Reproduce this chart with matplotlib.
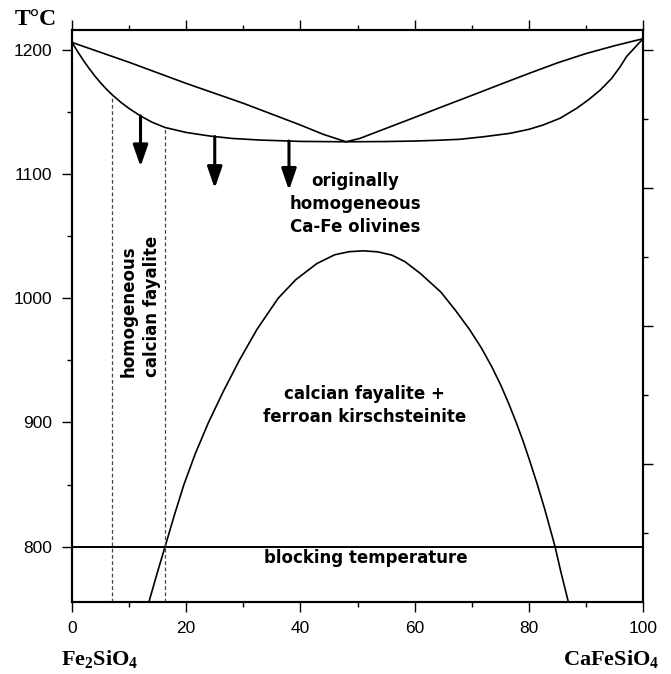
import numpy as np
import matplotlib
matplotlib.use("Agg")
import matplotlib.pyplot as plt

plt.rcParams['mathtext.fontset'] = 'custom'
plt.rcParams['mathtext.bf'] = 'Liberation Serif:bold'
plt.rcParams['mathtext.rm'] = 'Liberation Serif:bold'

# ---------------- data ----------------
# liquidus (upper curve)
liq_x = [0, 10, 20, 30, 40, 44, 48, 50.4, 55, 60, 65, 70, 75, 80, 85, 90, 95, 100]
liq_T = [1206, 1190, 1173, 1157, 1139.5, 1132, 1126, 1128.7, 1136.8, 1145.6, 1154.5,
         1163.3, 1172.2, 1181, 1189.5, 1197, 1203.3, 1209]
# solidus (lower curve)
sol_x = [0, 1, 2, 3, 4, 5, 6, 7, 8.5, 10, 12, 14, 16.3, 20, 24.2, 28, 32.9, 40, 48,
         55, 60, 64, 67.9, 72, 76.7, 80, 82.5, 85.5, 88.4, 90.5, 92.5, 94.5, 96,
         97.1, 98.5, 100]
sol_T = [1206, 1198.5, 1191.5, 1185, 1179, 1173.5, 1168.5, 1164, 1158, 1152.8, 1146.8,
         1141.8, 1137.5, 1133.5, 1130.6, 1128.7, 1127.4, 1126.3, 1126, 1126.2, 1126.6,
         1127.2, 1128, 1130, 1132.8, 1136, 1139.5, 1145, 1153, 1160, 1167.6, 1177,
         1186.4, 1194.5, 1201.5, 1209]
# solvus dome
solv_x = [13.5, 15.0, 16.3, 17.9, 19.6, 21.6, 23.9, 26.5, 29.3, 32.4, 36.1, 39.2, 42.9,
          46.0, 48.5, 51.0, 53.5, 56.0, 58.3, 61.0, 64.6, 67.2, 69.6, 71.7, 73.5, 75.1,
          76.5, 77.8, 79.0, 80.1, 81.5, 82.8, 83.7, 84.6, 85.6, 86.9]
solv_T = [756, 780, 800, 825, 850, 875, 900, 925, 950, 975, 1000, 1015, 1028,
          1035, 1037.5, 1038.2, 1037.4, 1034.8, 1029.5, 1020, 1005, 990, 975, 960,
          945, 930, 915, 900, 885, 870, 850, 830, 815, 800, 780, 756]
blocking_T = 800
dash_x = [7, 16.3]
arrow_x = [12, 25, 38]
arrow_end_T = [1106, 1088.5, 1087]

x_ticks = [0, 20, 40, 60, 80, 100]
y_ticks = [800, 900, 1000, 1100, 1200]
right_major = [1200, 1200 - 1000/9, 1200 - 2000/9, 1200 - 3000/9]
right_minor = [t - 500/9 for t in right_major]

# ---------------- figure ----------------
W, H = 671, 674
fig = plt.figure(figsize=(W/100, H/100), dpi=100)
ax = fig.add_axes([72/W, 1 - 601.7/H, (643 - 72)/W, (601.7 - 30)/H])
ax.set_xlim(0, 100)
ax.set_ylim(755.7, 1216)

lw = 1.2
ax.plot(liq_x, liq_T, color='black', lw=lw)
ax.plot(sol_x, sol_T, color='black', lw=lw)
ax.plot(solv_x, solv_T, color='black', lw=lw)
ax.axhline(blocking_T, color='black', lw=1.4)

dash_top = np.interp(dash_x, sol_x, sol_T)
ax.vlines(dash_x, 755.7, dash_top, colors='#444444', lw=0.9,
          linestyles=(0, (3, 2)))

arrow_start = np.interp(arrow_x, sol_x, sol_T)
for xa, t0, t1 in zip(arrow_x, arrow_start, arrow_end_T):
    ax.annotate('', xy=(xa, t1), xytext=(xa, t0),
                arrowprops=dict(arrowstyle='-|>,head_length=1.3,head_width=0.45',
                                lw=2.2, color='black', shrinkA=0, shrinkB=0))

# ticks
for s in ax.spines.values():
    s.set_linewidth(1.5)
ax.set_xticks(x_ticks)
ax.set_xticks(np.arange(0, 101, 10), minor=True)
ax.set_yticks(y_ticks)
ax.set_yticks(np.arange(800, 1201, 50), minor=True)
ax.tick_params(which='both', direction='out', top=True, right=False, width=1)
ax.tick_params(which='major', length=7, pad=7)
ax.tick_params(which='minor', length=3.6)
for lab in ax.get_xticklabels() + ax.get_yticklabels():
    lab.set_fontfamily('Liberation Sans')
    lab.set_fontsize(12.5)

ax2 = ax.twinx()
ax2.set_ylim(ax.get_ylim())
ax2.set_yticks(right_major)
ax2.set_yticks(right_minor, minor=True)
ax2.tick_params(which='both', direction='out', labelright=False, width=1)
ax2.tick_params(which='major', length=7)
ax2.tick_params(which='minor', length=3.6)
for s in ax2.spines.values():
    s.set_linewidth(1.5)

# texts
tfont = dict(family='DejaVu Sans', weight='bold', size=12)
ax.text(49.6, 1076, 'originally\nhomogeneous\nCa-Fe olivines', ha='center',
        va='center', linespacing=1.35, **tfont)
ax.text(51.3, 913.6, 'calcian fayalite +\nferroan kirschsteinite', ha='center',
        va='center', linespacing=1.35, **tfont)
ax.text(51.5, 790.9, 'blocking temperature', ha='center', va='center', **tfont)
ax.text(12.0, 936.8, 'homogeneous\ncalcian fayalite', ha='center', va='bottom',
        rotation=90, multialignment='left', linespacing=1.4, **tfont)

fig.text(15/W, 1 - 25/H, 'T°C', ha='left', va='baseline',
         family='Liberation Serif', weight='bold', size=17)
fig.text(100/W, 1 - 665/H, r'$\mathbf{Fe_2SiO_4}$', ha='center', va='baseline',
         size=16)
fig.text(611/W, 1 - 665/H, r'$\mathbf{CaFeSiO_4}$', ha='center', va='baseline',
         size=16)

fig.savefig('out.png', dpi=100)
